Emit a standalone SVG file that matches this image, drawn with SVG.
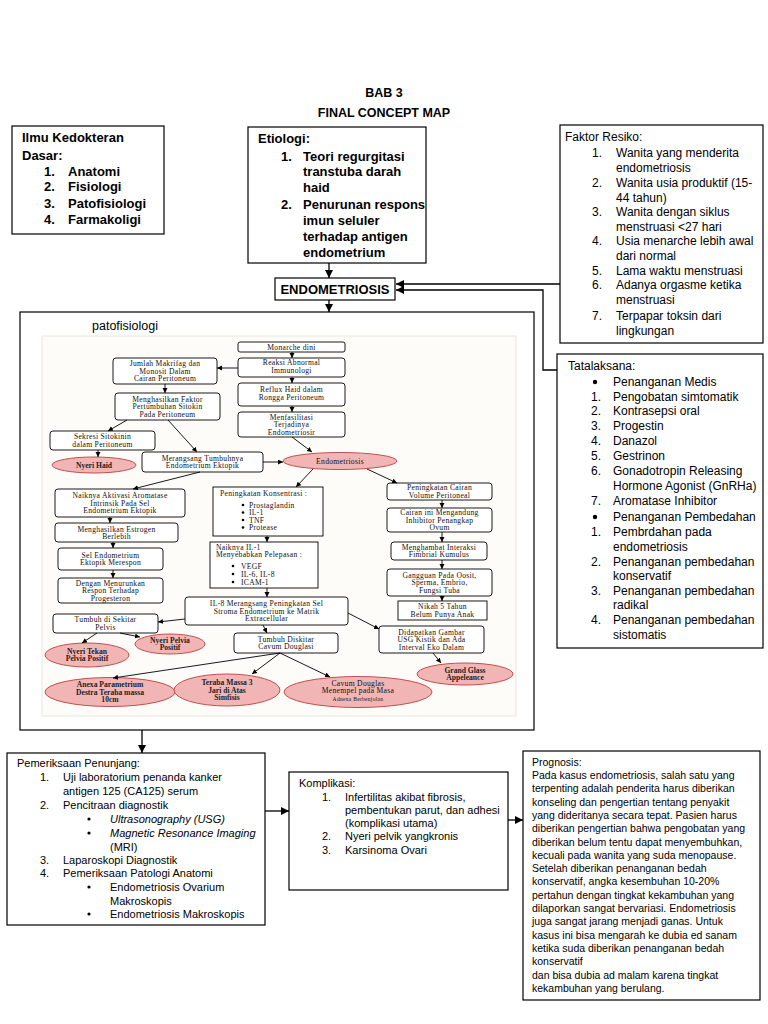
<svg xmlns="http://www.w3.org/2000/svg" width="768" height="1024" viewBox="0 0 768 1024">
<defs>
<style>
.bx{fill:#fff;stroke:#000;stroke-width:1.2}
.ib{fill:#fff;stroke:#000;stroke-width:0.9}
.el{fill:#f2b5b5;stroke:#c0504d;stroke-width:1}
.t{font-family:"Liberation Sans",Arial,sans-serif;fill:#000}
.tb{font-family:"Liberation Sans",Arial,sans-serif;font-weight:bold;fill:#000}
.s{font-family:"Liberation Serif","Times New Roman",serif;font-size:7.6px;text-anchor:middle;fill:#111;letter-spacing:0.3px}
.sl{font-family:"Liberation Serif","Times New Roman",serif;font-size:7.6px;fill:#111;letter-spacing:0.3px}
.sb{font-family:"Liberation Serif","Times New Roman",serif;font-size:7.6px;text-anchor:middle;fill:#222;font-weight:bold}
.c{stroke:#000;fill:none;stroke-width:1.3;marker-end:url(#ah)}
.ci{stroke:#000;fill:none;stroke-width:0.9;marker-end:url(#as)}
</style>
<marker id="ah" markerUnits="userSpaceOnUse" markerWidth="9" markerHeight="9" refX="8" refY="4" orient="auto"><path d="M0,0 L8,4 L0,8 z" fill="#000"/></marker>
<marker id="as" markerUnits="userSpaceOnUse" markerWidth="6" markerHeight="6" refX="5" refY="2.5" orient="auto"><path d="M0,0 L5,2.5 L0,5 z" fill="#000"/></marker>
</defs>
<rect width="768" height="1024" fill="#fff"/>

<g id="title">
<text class="tb" x="384" y="97" font-size="12.5" text-anchor="middle">BAB 3</text>
<text class="tb" x="384" y="117" font-size="12.5" text-anchor="middle">FINAL CONCEPT MAP</text>
</g>

<g id="ilmu">
<rect class="bx" x="12" y="126" width="152" height="108"/>
<g class="tb" font-size="13">
<text x="22" y="142">Ilmu Kedokteran</text>
<text x="22" y="160">Dasar:</text>
<text x="44" y="176">1.</text><text x="68" y="176">Anatomi</text>
<text x="44" y="191">2.</text><text x="68" y="191">Fisiologi</text>
<text x="44" y="208">3.</text><text x="68" y="208">Patofisiologi</text>
<text x="44" y="224">4.</text><text x="68" y="224">Farmakoligi</text>
</g>
</g>

<g id="etiologi">
<rect class="bx" x="248" y="127" width="178" height="136"/>
<g class="tb" font-size="13">
<text x="258" y="143">Etiologi:</text>
<text x="281" y="161">1.</text><text x="303" y="161">Teori regurgitasi</text>
<text x="303" y="176">transtuba darah</text>
<text x="303" y="192">haid</text>
<text x="281" y="209">2.</text><text x="303" y="209">Penurunan respons</text>
<text x="303" y="225">imun seluler</text>
<text x="303" y="241">terhadap antigen</text>
<text x="303" y="257">endometrium</text>
</g>
</g>

<g id="endometriosis">
<rect class="bx" x="275" y="278" width="120" height="22"/>
<text class="tb" x="335" y="294" font-size="13" text-anchor="middle">ENDOMETRIOSIS</text>
</g>

<g id="faktor">
<rect class="bx" x="560" y="125" width="203" height="218"/>
<g class="t" font-size="12">
<text x="565" y="141">Faktor Resiko:</text>
<text x="592" y="157">1.</text><text x="616" y="157">Wanita yang menderita</text>
<text x="616" y="172">endometriosis</text>
<text x="592" y="187">2.</text><text x="616" y="187">Wanita usia produktif (15-</text>
<text x="616" y="202">44 tahun)</text>
<text x="592" y="216">3.</text><text x="616" y="216">Wanita dengan siklus</text>
<text x="616" y="231">menstruasi &lt;27 hari</text>
<text x="592" y="245">4.</text><text x="616" y="245">Usia menarche lebih awal</text>
<text x="616" y="260">dari normal</text>
<text x="592" y="275">5.</text><text x="616" y="275">Lama waktu menstruasi</text>
<text x="592" y="289">6.</text><text x="616" y="289">Adanya orgasme ketika</text>
<text x="616" y="304">menstruasi</text>
<text x="592" y="320">7.</text><text x="616" y="320">Terpapar toksin dari</text>
<text x="616" y="335">lingkungan</text>
</g>
</g>

<g id="tatalaksana">
<rect class="bx" x="557" y="354" width="206" height="294"/>
<g class="t" font-size="12">
<text x="568" y="370">Tatalaksana:</text>
<circle cx="595" cy="382" r="2.2"/><text x="613" y="386">Penanganan Medis</text>
<text x="591" y="401">1.</text><text x="613" y="401">Pengobatan simtomatik</text>
<text x="591" y="415">2.</text><text x="613" y="415">Kontrasepsi oral</text>
<text x="591" y="430">3.</text><text x="613" y="430">Progestin</text>
<text x="591" y="445">4.</text><text x="613" y="445">Danazol</text>
<text x="591" y="460">5.</text><text x="613" y="460">Gestrinon</text>
<text x="591" y="475">6.</text><text x="613" y="475">Gonadotropin Releasing</text>
<text x="613" y="490">Hormone Agonist (GnRHa)</text>
<text x="591" y="505">7.</text><text x="613" y="505">Aromatase Inhibitor</text>
<circle cx="595" cy="517" r="2.2"/><text x="613" y="521">Penanganan Pembedahan</text>
<text x="591" y="536">1.</text><text x="613" y="536">Pembrdahan pada</text>
<text x="613" y="551">endometriosis</text>
<text x="591" y="566">2.</text><text x="613" y="566">Penanganan pembedahan</text>
<text x="613" y="580">konservatif</text>
<text x="591" y="595">3.</text><text x="613" y="595">Penanganan pembedahan</text>
<text x="613" y="609">radikal</text>
<text x="591" y="624">4.</text><text x="613" y="624">Penanganan pembedahan</text>
<text x="613" y="639">sistomatis</text>
</g>
</g>

<g id="patofisiologi">
<rect class="bx" x="20" y="312" width="514" height="418"/>
<text class="t" x="92" y="330" font-size="12.5">patofisiologi</text>
<rect x="42" y="336" width="474" height="380" fill="#fdfcf8" stroke="#e9e7dc" stroke-width="1"/>
</g>

<g id="p-monarche"><rect class="ib" x="238" y="342" width="107" height="10" rx="2"/><text class="s" x="291.5" y="349.6">Monarche dini</text></g>
<g id="p-reaksi"><rect class="ib" x="238" y="358" width="107" height="19" rx="3"/><text class="s" x="291.5" y="365.3">Reaksi Abnormal</text><text class="s" x="291.5" y="372.8">Immunologi</text></g>
<g id="p-reflux"><rect class="ib" x="238" y="383" width="107" height="23" rx="3"/><text class="s" x="291.5" y="392.3">Reflux Haid dalam</text><text class="s" x="291.5" y="399.8">Rongga Peritoneum</text></g>
<g id="p-menfas"><rect class="ib" x="238" y="412" width="107" height="25" rx="3"/><text class="s" x="291.5" y="419.5">Menfasilitasi</text><text class="s" x="291.5" y="427">Terjadinya</text><text class="s" x="291.5" y="434.5">Endometriosir</text></g>
<g id="p-jumlah"><rect class="ib" x="113" y="358" width="104" height="26" rx="3"/><text class="s" x="165" y="366">Jumlah Makrifag dan</text><text class="s" x="165" y="373.5">Monosit Dalam</text><text class="s" x="165" y="381">Cairan Peritoneum</text></g>
<g id="p-faktor"><rect class="ib" x="115" y="393" width="105" height="27" rx="3"/><text class="s" x="167.5" y="401.5">Menghasilkan Faktor</text><text class="s" x="167.5" y="409">Pertumbuhan Sitokin</text><text class="s" x="167.5" y="416.5">Pada Peritoneum</text></g>
<g id="p-sekresi"><rect class="ib" x="50" y="431" width="105" height="19" rx="3"/><text class="s" x="102.5" y="439.3">Sekresi Sitokinin</text><text class="s" x="102.5" y="446.8">dalam Peritoneum</text></g>
<g id="p-nyerihaid"><ellipse class="el" cx="94" cy="465" rx="42" ry="8"/><text class="sb" x="94" y="467.6">Nyeri Haid</text></g>
<g id="p-merangsang"><rect class="ib" x="142" y="452" width="121" height="20" rx="3"/><text class="s" x="202.5" y="460.8">Merangsang Tumbuhnya</text><text class="s" x="202.5" y="468.3">Endometrium Ektopik</text></g>
<g id="p-endo"><ellipse class="el" cx="340" cy="461" rx="57" ry="8.5"/><text class="s" x="340" y="463.6">Endometriosis</text></g>
<g id="p-aromatase"><rect class="ib" x="55" y="489" width="130" height="28" rx="3"/><text class="s" x="120" y="498">Naiknya Aktivasi Aromatase</text><text class="s" x="120" y="505.5">Intrinsik Pada Sel</text><text class="s" x="120" y="513">Endometrium Ektopik</text></g>
<g id="p-estrogen"><rect class="ib" x="55" y="523" width="123" height="19" rx="3"/><text class="s" x="116.5" y="531.5">Menghasilkan Estrogen</text><text class="s" x="116.5" y="539">Berlebih</text></g>
<g id="p-selendo"><rect class="ib" x="58" y="548" width="105" height="22" rx="3"/><text class="s" x="110.5" y="557.8">Sel Endometrium</text><text class="s" x="110.5" y="565.3">Ektopik Merespon</text></g>
<g id="p-dengan"><rect class="ib" x="58" y="578" width="105" height="25" rx="3"/><text class="s" x="110.5" y="585.5">Dengan Menurunkan</text><text class="s" x="110.5" y="593">Respon Terhadap</text><text class="s" x="110.5" y="600.5">Progesteron</text></g>
<g id="p-tumbuhpelvis"><rect class="ib" x="53" y="614" width="105" height="19" rx="3"/><text class="s" x="105.5" y="622.3">Tumbuh di Sekitar</text><text class="s" x="105.5" y="629.8">Pelvis</text></g>
<g id="p-nyeritekan"><ellipse class="el" cx="87" cy="655" rx="42" ry="12"/><text class="sb" x="87" y="653.8">Nyeri Tekan</text><text class="sb" x="87" y="661.3">Pelvia Positif</text></g>
<g id="p-nyeripelvia"><ellipse class="el" cx="170" cy="644" rx="35" ry="10"/><text class="sb" x="170" y="642.8">Nyeri Pelvia</text><text class="sb" x="170" y="650.3">Positif</text></g>
<g id="p-konsentrasi"><rect class="ib" x="213" y="487" width="110" height="49"/><text class="sl" x="220" y="495.5">Peningkatan Konsentrasi :</text>
<circle cx="243" cy="505" r="1.3"/><circle cx="243" cy="512.5" r="1.3"/><circle cx="243" cy="520" r="1.3"/><circle cx="243" cy="527.5" r="1.3"/>
<text class="sl" x="249" y="507.5">Prostaglandin</text><text class="sl" x="249" y="515">IL-1</text><text class="sl" x="249" y="522.5">TNF</text><text class="sl" x="249" y="530">Protease</text></g>
<g id="p-il1"><rect class="ib" x="210" y="542" width="108" height="46"/><text class="sl" x="216" y="549.5">Naiknya IL-1</text><text class="sl" x="216" y="557">Menyebabkan Pelepasan :</text>
<circle cx="233" cy="566" r="1.3"/><circle cx="233" cy="574" r="1.3"/><circle cx="233" cy="582" r="1.3"/>
<text class="sl" x="241" y="568.5">VEGF</text><text class="sl" x="241" y="576.5">IL-6, IL-8</text><text class="sl" x="241" y="584.5">ICAM-1</text></g>
<g id="p-il8"><rect class="ib" x="185" y="597" width="163" height="28" rx="3"/><text class="s" x="266.5" y="606">IL-8 Merangsang Peningkatan Sel</text><text class="s" x="266.5" y="613.5">Stroma Endometrium ke Matrik</text><text class="s" x="266.5" y="621">Extracellular</text></g>
<g id="p-diskitar"><rect class="ib" x="234" y="633" width="104" height="20" rx="3"/><text class="s" x="286" y="641.8">Tumbuh Diskitar</text><text class="s" x="286" y="649.3">Cavum Douglasi</text></g>
<g id="p-anexa"><ellipse class="el" cx="110" cy="692" rx="65" ry="14.5"/><text class="sb" x="110" y="687">Anexa Parametrium</text><text class="sb" x="110" y="694.5">Destra Teraba massa</text><text class="sb" x="110" y="702">10cm</text></g>
<g id="p-teraba"><ellipse class="el" cx="227" cy="690" rx="53" ry="16"/><text class="sb" x="227" y="685">Teraba Massa 3</text><text class="sb" x="227" y="692.5">Jari di Atas</text><text class="sb" x="227" y="700">Simfisis</text></g>
<g id="p-cavum"><ellipse class="el" cx="358" cy="692" rx="74" ry="15.5"/><text class="s" x="358" y="685.5">Cavum Douglas</text><text class="s" x="358" y="693">Menempel pada Masa</text><text class="s" x="358" y="701" style="font-size:5.5px">Adnexa Berbenjolan</text></g>
<g id="p-cairan"><rect class="ib" x="387" y="483" width="105" height="17" rx="3"/><text class="s" x="439.5" y="490.3">Peningkatan Cairan</text><text class="s" x="439.5" y="497.8">Volume Peritoneal</text></g>
<g id="p-inhibitor"><rect class="ib" x="387" y="508" width="105" height="24" rx="3"/><text class="s" x="439.5" y="515">Cairan ini Mengandung</text><text class="s" x="439.5" y="522.5">Inhibitor Penangkap</text><text class="s" x="439.5" y="530">Ovum</text></g>
<g id="p-menghambat"><rect class="ib" x="391" y="542" width="96" height="18" rx="3"/><text class="s" x="439" y="549.8">Menghambat Interaksi</text><text class="s" x="439" y="557.3">Fimbrial Kumulus</text></g>
<g id="p-gangguan"><rect class="ib" x="387" y="569" width="105" height="27" rx="3"/><text class="s" x="439.5" y="577.5">Gangguan Pada Oosit,</text><text class="s" x="439.5" y="585">Sperma, Embrio,</text><text class="s" x="439.5" y="592.5">Fungsi Tuba</text></g>
<g id="p-nikah"><rect class="ib" x="398" y="601" width="89" height="19"/><text class="s" x="442.5" y="609.3">Nikah 5 Tahun</text><text class="s" x="442.5" y="616.8">Belum Punya Anak</text></g>
<g id="p-usg"><rect class="ib" x="379" y="626" width="105" height="27" rx="3"/><text class="s" x="431.5" y="634.5">Didapatkan Gambar</text><text class="s" x="431.5" y="642">USG Kistik dan Ada</text><text class="s" x="431.5" y="649.5">Interval Eko Dalam</text></g>
<g id="p-grand"><ellipse class="el" cx="465" cy="674" rx="48" ry="11"/><text class="sb" x="465" y="672.8">Grand Glass</text><text class="sb" x="465" y="680.3">Appeleance</text></g>

<g id="pemeriksaan">
<rect class="bx" x="7" y="753" width="258" height="172"/>
<g class="t" font-size="11">
<text x="17" y="767">Pemeriksaan Penunjang:</text>
<text x="40" y="781">1.</text><text x="63" y="781">Uji laboratorium penanda kanker</text>
<text x="63" y="795">antigen 125 (CA125) serum</text>
<text x="40" y="809">2.</text><text x="63" y="809">Pencitraan diagnostik</text>
<circle cx="89" cy="819" r="1.6"/><text x="110" y="823" font-style="italic">Ultrasonography (USG)</text>
<circle cx="89" cy="833" r="1.6"/><text x="110" y="837" font-style="italic">Magnetic Resonance Imaging</text>
<text x="110" y="851">(MRI)</text>
<text x="40" y="864">3.</text><text x="63" y="864">Laparoskopi Diagnostik</text>
<text x="40" y="877">4.</text><text x="63" y="877">Pemeriksaan Patologi Anatomi</text>
<circle cx="89" cy="887" r="1.6"/><text x="110" y="891">Endometriosis Ovarium</text>
<text x="110" y="905">Makroskopis</text>
<circle cx="89" cy="914" r="1.6"/><text x="110" y="918">Endometriosis Makroskopis</text>
</g>
</g>

<g id="komplikasi">
<rect class="bx" x="289" y="772" width="219" height="118"/>
<g class="t" font-size="11">
<text x="299" y="787">Komplikasi:</text>
<text x="322" y="801">1.</text><text x="345" y="801">Infertilitas akibat fibrosis,</text>
<text x="345" y="814">pembentukan parut, dan adhesi</text>
<text x="345" y="827">(komplikasi utama)</text>
<text x="322" y="840">2.</text><text x="345" y="840">Nyeri pelvik yangkronis</text>
<text x="322" y="854">3.</text><text x="345" y="854">Karsinoma Ovari</text>
</g>
</g>

<g id="prognosis">
<rect class="bx" x="523" y="751" width="237" height="249"/>
<g class="t" font-size="10.5">
<text x="532" y="766">Prognosis:</text>
<text x="532" y="779">Pada kasus endometriosis, salah satu yang</text>
<text x="532" y="792.3">terpenting adalah penderita harus diberikan</text>
<text x="532" y="805.6">konseling dan pengertian tentang penyakit</text>
<text x="532" y="818.9">yang dideritanya secara tepat. Pasien harus</text>
<text x="532" y="832.2">diberikan pengertian bahwa pengobatan yang</text>
<text x="532" y="845.5">diberikan belum tentu dapat menyembuhkan,</text>
<text x="532" y="858.8">kecuali pada wanita yang suda menopause.</text>
<text x="532" y="872.1">Setelah diberikan penanganan bedah</text>
<text x="532" y="885.4">konservatif, angka kesembuhan 10-20%</text>
<text x="532" y="898.7">pertahun dengan tingkat kekambuhan yang</text>
<text x="532" y="912">dilaporkan sangat bervariasi. Endometriosis</text>
<text x="532" y="925.3">juga sangat jarang menjadi ganas. Untuk</text>
<text x="532" y="938.6">kasus ini bisa mengarah ke dubia ed sanam</text>
<text x="532" y="951.9">ketika suda diberikan penanganan bedah</text>
<text x="532" y="965.2">konservatif</text>
<text x="532" y="978.5">dan bisa dubia ad malam karena tingkat</text>
<text x="532" y="991.8">kekambuhan yang berulang.</text>
</g>
</g>

<g id="connectors">
<path class="c" d="M329,263 V278"/>
<path class="c" d="M329,300 V312"/>
<path class="c" d="M560,284 H396"/>
<path class="c" d="M557,370 H543 V290 H396"/>
<path class="c" d="M142,730 V753"/>
<path class="c" d="M265,811 H289"/>
<path class="c" d="M508,820 H523"/>
</g>

<g id="p-connectors">
<path class="ci" d="M292,352 V358"/>
<path class="ci" d="M292,377 V383"/>
<path class="ci" d="M292,406 V412"/>
<path class="ci" d="M292,437 L312,452"/>
<path class="ci" d="M238,368 H217"/>
<path class="ci" d="M165,384 V393"/>
<path class="ci" d="M127,420 L108,431"/>
<path class="ci" d="M98,450 V457"/>
<path class="ci" d="M168,420 L197,452"/>
<path class="ci" d="M263,462 H283"/>
<path class="ci" d="M200,472 L133,489"/>
<path class="ci" d="M313,469 L296,487"/>
<path class="ci" d="M367,469 L397,483"/>
<path class="ci" d="M110,517 V523"/>
<path class="ci" d="M113,542 V548"/>
<path class="ci" d="M113,570 V578"/>
<path class="ci" d="M267,536 V542"/>
<path class="ci" d="M267,588 V597"/>
<path class="ci" d="M442,500 V508"/>
<path class="ci" d="M442,532 V542"/>
<path class="ci" d="M442,560 V569"/>
<path class="ci" d="M442,596 V601"/>
<path class="ci" d="M185,619 L158,622"/>
<path class="ci" d="M263,625 L267,633"/>
<path class="ci" d="M348,613 L379,629"/>
<path class="ci" d="M433,653 L441,663"/>
<path class="ci" d="M97,633 L82,643"/>
<path class="ci" d="M120,633 L140,637"/>
<path class="ci" d="M280,653 L113,678"/>
<path class="ci" d="M280,653 L252,674"/>
<path class="ci" d="M280,653 L330,677"/>
</g>
</svg>
